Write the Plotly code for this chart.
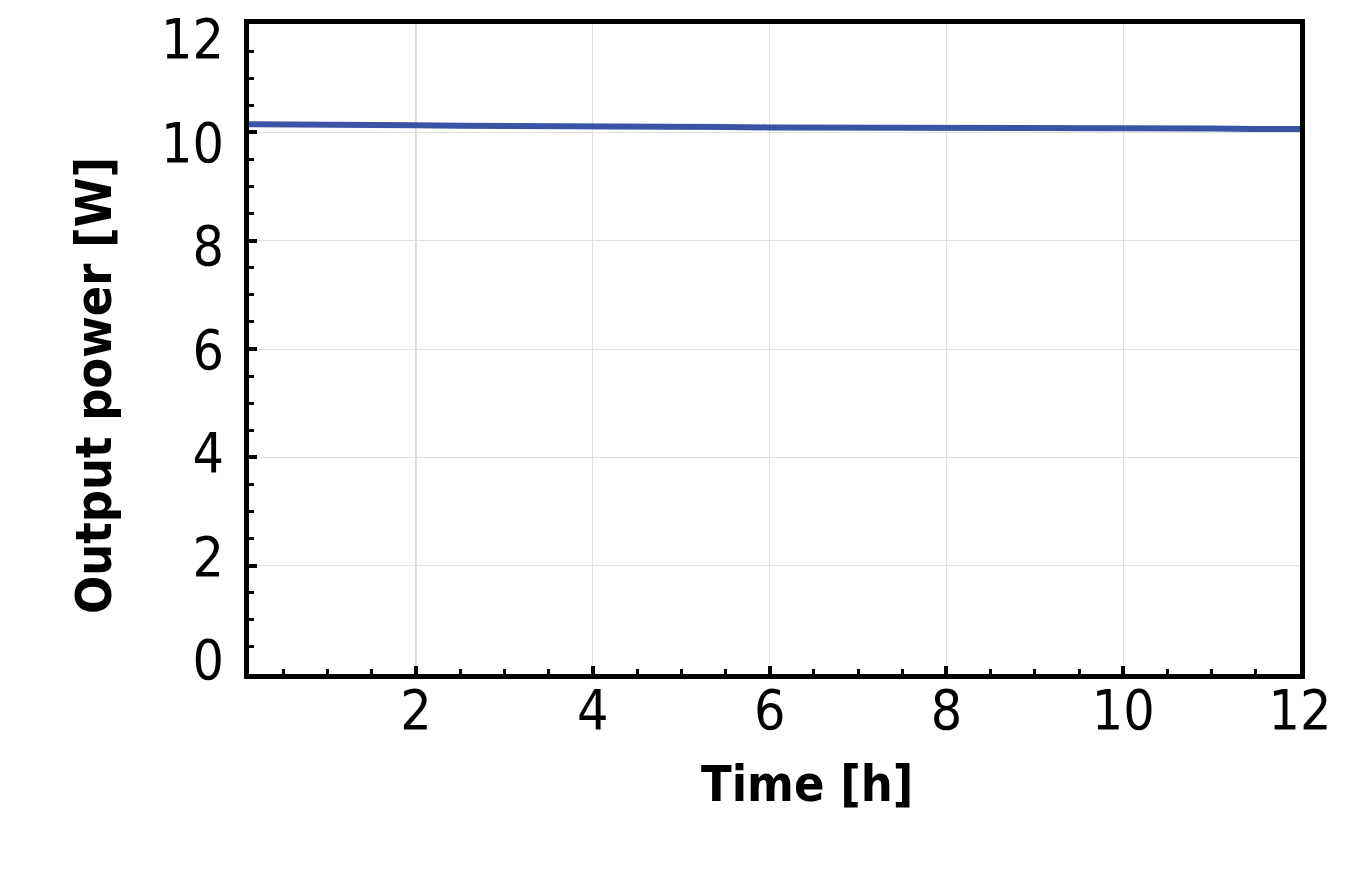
import plotly.graph_objects as go

# power drifts very slowly down over 12 h
time_h = [0.11, 0.5, 1.0, 1.5, 2.0, 2.5, 3.0, 3.5, 4.0, 4.5, 5.0, 5.5, 6.0,
          6.5, 7.0, 7.5, 8.0, 8.5, 9.0, 9.5, 10.0, 10.5, 11.0, 11.5, 12.0]
power_w = [10.15, 10.15, 10.14, 10.13, 10.13, 10.12, 10.12, 10.11, 10.11, 10.10, 10.10, 10.10, 10.09,
           10.09, 10.09, 10.09, 10.08, 10.08, 10.08, 10.07, 10.07, 10.07, 10.07, 10.06, 10.06]

x_ticks = [2, 4, 6, 8, 10, 12]
y_ticks = [0, 2, 4, 6, 8, 10, 12]

FAMILY = "DejaVu Sans Condensed, Liberation Sans Narrow, Arial Narrow, sans-serif"
TICK_FONT = dict(family=FAMILY, size=55, color="black")
TITLE_FONT = dict(family=FAMILY, size=50, color="black")

fig = go.Figure(go.Scatter(
    x=time_h, y=power_w, mode="lines",
    line=dict(color="#3a53a5", width=6),
    showlegend=False,
))

axis_common = dict(
    showline=True, linecolor="black", linewidth=5, mirror=True,
    showgrid=True, gridcolor="#e0e0e0", gridwidth=1,
    ticks="inside", ticklen=8, tickwidth=4, tickcolor="black",
    minor=dict(ticks="inside", ticklen=5, tickwidth=3, tickcolor="black", dtick=0.5, showgrid=False),
    tickfont=TICK_FONT, zeroline=False, automargin=False,
    ticklabeloverflow="allow",
)

fig.update_xaxes(range=[0.11, 12], tickvals=x_ticks, ticklabelstandoff=-16, **axis_common)
fig.update_yaxes(range=[0, 12], tickvals=y_ticks, showticklabels=False, **axis_common)

# in the original the y labels are spaced slightly tighter than the ticks,
# so they live on a label-only overlay axis
fig.update_layout(yaxis2=dict(
    overlaying="y", side="left", anchor="x", range=[-0.269, 12.287],
    tickvals=y_ticks, showgrid=False, showline=False, zeroline=False, ticks="",
    tickfont=TICK_FONT, ticklabelstandoff=24, ticklabeloverflow="allow",
    automargin=False,
))
fig.add_trace(go.Scatter(x=[], y=[], yaxis="y2", showlegend=False))

# the first vertical gridline is drawn darker in the original
fig.add_vline(x=x_ticks[0], line=dict(color="#ababab", width=1), layer="below")

fig.add_annotation(text="<b>Time [h]</b>", xref="paper", yref="paper", x=0.5, y=0,
                   xanchor="center", yanchor="middle", xshift=32, yshift=-110,
                   showarrow=False, font=TITLE_FONT)
fig.add_annotation(text="<b>Output power [W]</b>", xref="paper", yref="paper", x=0, y=0.5,
                   xanchor="center", yanchor="middle", xshift=-155, yshift=-37,
                   textangle=-90, showarrow=False, font=TITLE_FONT)

# page body adds a few px of offset, so the figure is a bit smaller than the window
fig.update_layout(
    width=1350, height=867,
    margin=dict(l=241, r=58, t=16, b=201),
    plot_bgcolor="white", paper_bgcolor="white",
)

fig.write_html("out.html")
